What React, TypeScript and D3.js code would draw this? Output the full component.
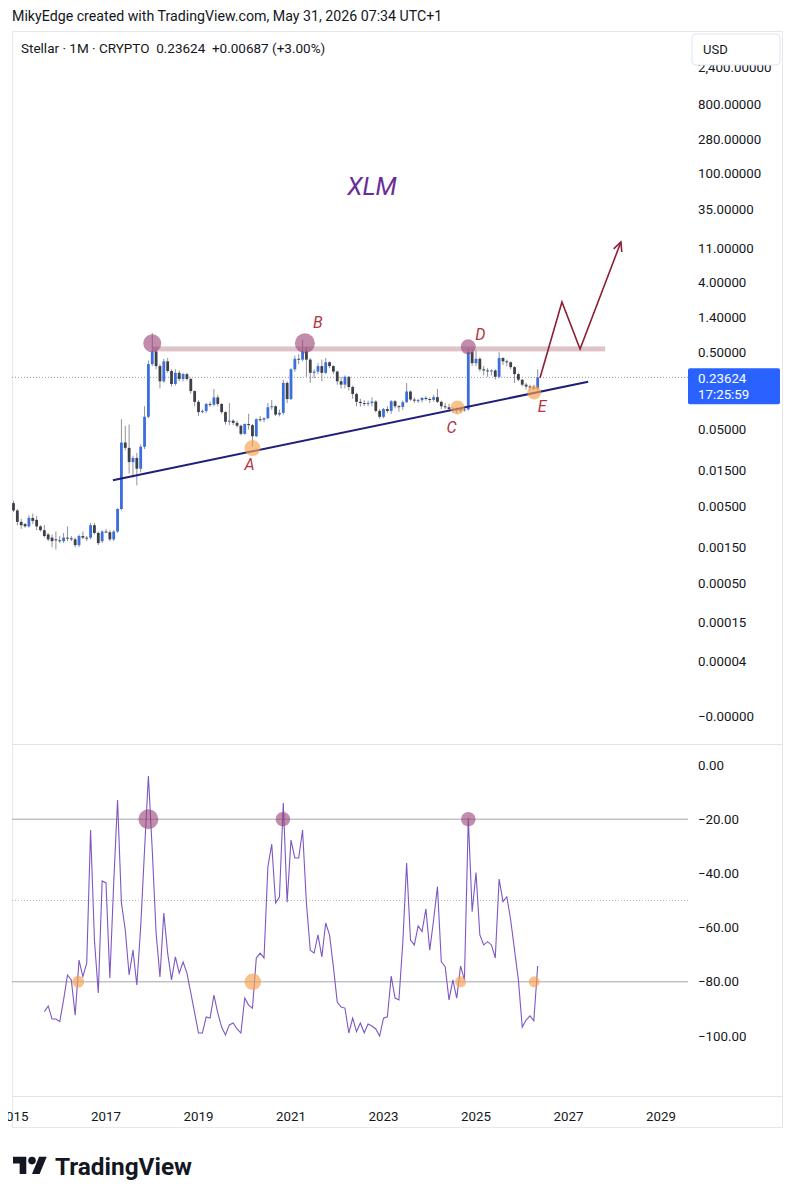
import React from "react";
import * as d3 from "d3";

// ---------- DATA ----------
// Monthly candles starting Jan 2015 (index 0), [open, high, low, close]
const firstYear = 2015;
const ohlc: [number, number, number, number][] = [
  [0.0056, 0.006, 0.0043, 0.0045], [0.0045, 0.0047, 0.0029, 0.0032], [0.0032, 0.0035, 0.0026, 0.0029], [0.003, 0.0031, 0.0027, 0.0028],
  [0.0028, 0.0039, 0.0027, 0.0036], [0.0036, 0.0041, 0.003, 0.0033], [0.0034, 0.0038, 0.0025, 0.0028], [0.0028, 0.0029, 0.0024, 0.0025],
  [0.0025, 0.0029, 0.002, 0.0021], [0.0022, 0.0023, 0.0018, 0.0019], [0.002, 0.0022, 0.0015, 0.0018], [0.0019, 0.0024, 0.0014, 0.00185],
  [0.00185, 0.0021, 0.0017, 0.0018], [0.0018, 0.0023, 0.0017, 0.002], [0.002, 0.0028, 0.0018, 0.00196], [0.00196, 0.0021, 0.0018, 0.0019],
  [0.0019, 0.002, 0.0015, 0.0016], [0.0016, 0.0022, 0.0015, 0.0021], [0.0021, 0.0024, 0.0019, 0.002], [0.002, 0.0021, 0.0018, 0.00198],
  [0.002, 0.0031, 0.0019, 0.0029], [0.0029, 0.0031, 0.0022, 0.0023], [0.0023, 0.0024, 0.0016, 0.0017], [0.0018, 0.0025, 0.0017, 0.0024],
  [0.0024, 0.0026, 0.0023, 0.00235], [0.00235, 0.0025, 0.0018, 0.0019], [0.0019, 0.0025, 0.0018, 0.0024], [0.0024, 0.0048, 0.0023, 0.0047],
  [0.0047, 0.068, 0.0045, 0.034], [0.034, 0.056, 0.027, 0.029], [0.029, 0.058, 0.0135, 0.019], [0.019, 0.023, 0.012, 0.0215],
  [0.0215, 0.025, 0.0095, 0.0156], [0.0156, 0.032, 0.014, 0.03], [0.03, 0.1, 0.028, 0.073], [0.073, 0.39, 0.07, 0.35],
  [0.35, 0.88, 0.33, 0.51], [0.51, 0.56, 0.3, 0.33], [0.33, 0.35, 0.17, 0.21], [0.21, 0.41, 0.2, 0.38],
  [0.38, 0.42, 0.27, 0.285], [0.285, 0.3, 0.18, 0.194], [0.194, 0.3, 0.185, 0.27], [0.27, 0.29, 0.21, 0.225],
  [0.225, 0.27, 0.21, 0.26], [0.26, 0.27, 0.215, 0.225], [0.225, 0.235, 0.145, 0.157], [0.157, 0.16, 0.1, 0.114],
  [0.114, 0.12, 0.075, 0.084], [0.084, 0.091, 0.081, 0.087], [0.087, 0.11, 0.082, 0.107], [0.107, 0.115, 0.098, 0.105],
  [0.105, 0.167, 0.1, 0.13], [0.13, 0.14, 0.1, 0.107], [0.107, 0.11, 0.08, 0.084], [0.084, 0.086, 0.058, 0.063],
  [0.063, 0.11, 0.057, 0.065], [0.065, 0.068, 0.057, 0.061], [0.061, 0.065, 0.053, 0.056], [0.056, 0.058, 0.042, 0.044],
  [0.044, 0.06, 0.043, 0.059], [0.059, 0.08, 0.05, 0.057], [0.057, 0.059, 0.03, 0.041], [0.041, 0.07, 0.04, 0.068],
  [0.068, 0.075, 0.063, 0.067], [0.067, 0.072, 0.062, 0.07], [0.07, 0.11, 0.068, 0.097], [0.097, 0.12, 0.09, 0.1],
  [0.1, 0.103, 0.075, 0.078], [0.078, 0.09, 0.074, 0.082], [0.082, 0.22, 0.078, 0.2], [0.2, 0.21, 0.11, 0.124],
  [0.124, 0.31, 0.12, 0.3], [0.3, 0.45, 0.28, 0.41], [0.41, 0.47, 0.35, 0.4], [0.4, 0.72, 0.38, 0.51],
  [0.51, 0.58, 0.24, 0.4], [0.4, 0.42, 0.2, 0.27], [0.27, 0.3, 0.23, 0.28], [0.28, 0.36, 0.26, 0.33],
  [0.33, 0.4, 0.21, 0.27], [0.27, 0.42, 0.26, 0.37], [0.37, 0.38, 0.31, 0.33], [0.33, 0.34, 0.26, 0.28],
  [0.28, 0.29, 0.19, 0.21], [0.21, 0.24, 0.17, 0.19], [0.19, 0.25, 0.17, 0.24], [0.24, 0.245, 0.16, 0.177],
  [0.177, 0.185, 0.125, 0.144], [0.144, 0.15, 0.1, 0.114], [0.114, 0.125, 0.099, 0.11], [0.11, 0.12, 0.1, 0.107],
  [0.107, 0.118, 0.1, 0.11], [0.11, 0.13, 0.1, 0.115], [0.115, 0.12, 0.083, 0.087], [0.087, 0.092, 0.069, 0.073],
  [0.073, 0.095, 0.07, 0.092], [0.092, 0.1, 0.082, 0.087], [0.087, 0.12, 0.08, 0.116], [0.116, 0.12, 0.094, 0.1],
  [0.1, 0.104, 0.085, 0.098], [0.098, 0.118, 0.09, 0.113], [0.113, 0.2, 0.11, 0.155], [0.155, 0.16, 0.118, 0.122],
  [0.122, 0.13, 0.11, 0.118], [0.118, 0.125, 0.11, 0.12], [0.12, 0.132, 0.112, 0.128], [0.128, 0.135, 0.118, 0.124],
  [0.124, 0.13, 0.11, 0.121], [0.121, 0.14, 0.115, 0.131], [0.131, 0.167, 0.11, 0.114], [0.114, 0.118, 0.092, 0.1],
  [0.1, 0.11, 0.092, 0.097], [0.097, 0.108, 0.085, 0.092], [0.092, 0.097, 0.083, 0.09], [0.09, 0.096, 0.081, 0.091],
  [0.091, 0.094, 0.084, 0.089], [0.089, 0.1, 0.085, 0.091], [0.091, 0.56, 0.088, 0.5], [0.5, 0.55, 0.33, 0.36],
  [0.36, 0.52, 0.33, 0.41], [0.41, 0.43, 0.28, 0.3], [0.3, 0.33, 0.25, 0.29], [0.29, 0.31, 0.24, 0.285],
  [0.285, 0.3, 0.25, 0.29], [0.29, 0.3, 0.22, 0.24], [0.24, 0.5, 0.23, 0.42], [0.42, 0.43, 0.34, 0.38],
  [0.38, 0.4, 0.33, 0.37], [0.37, 0.38, 0.3, 0.32], [0.32, 0.33, 0.2, 0.26], [0.26, 0.27, 0.21, 0.22],
  [0.22, 0.225, 0.18, 0.19], [0.19, 0.2, 0.165, 0.18], [0.18, 0.19, 0.16, 0.175], [0.175, 0.19, 0.16, 0.17],
  [0.17, 0.3, 0.16, 0.23624],
];

// Oscillator (Williams %R style), one value per month starting at month index 8
const oscStart = 8;
const oscValues: number[] = [
  -91.0, -88.9, -93.7, -93.7, -94.7, -86.7, -77.5, -79.3, -92.3, -72.0, -78.1, -73.1,
  -24.0, -64.6, -84.1, -42.8, -43.5, -78.6, -43.5, -12.9, -50.9, -60.9, -77.5, -68.3,
  -81.2, -59.8, -31.4, -4.1, -31.4, -62.0, -78.2, -54.6, -69.4, -79.3, -70.8, -76.8,
  -72.7, -76.8, -84.1, -91.5, -98.9, -98.9, -93.0, -93.4, -84.9, -91.5, -96.7, -99.6,
  -95.9, -95.2, -97.4, -98.9, -86.0, -88.6, -89.7, -71.2, -69.4, -71.2, -37.6, -29.2,
  -50.9, -48.7, -14.0, -50.6, -27.7, -34.3, -34.3, -24.0, -50.9, -68.3, -69.4, -62.7,
  -70.8, -58.3, -62.7, -74.5, -87.5, -89.3, -89.7, -98.9, -93.4, -98.4, -95.2, -98.8,
  -95.6, -96.3, -97.4, -100.0, -93.4, -92.9, -77.9, -86.0, -86.7, -65.7, -36.2, -64.6,
  -66.4, -59.4, -61.5, -53.1, -68.3, -57.2, -44.9, -72.6, -74.4, -86.7, -79.3, -86.0,
  -74.2, -79.3, -19.6, -54.1, -39.7, -62.7, -66.4, -65.2, -66.4, -71.2, -42.1, -50.4,
  -48.6, -57.2, -68.3, -79.3, -96.7, -94.1, -92.6, -94.4, -74.2,
];

const priceTicks = [2400, 800, 280, 100, 35, 11, 4, 1.4, 0.5, 0.05, 0.015, 0.005, 0.0015, 0.0005, 0.00015, 0.00004, 0];
const priceTickLabels = ["2,400.00000", "800.00000", "280.00000", "100.00000", "35.00000", "11.00000", "4.00000", "1.40000", "0.50000", "0.05000", "0.01500", "0.00500", "0.00150", "0.00050", "0.00015", "0.00004", "\u22120.00000"];
const oscTicks = [0, -20, -40, -60, -80, -100];
const oscTickLabels = ["0.00", "\u221220.00", "\u221240.00", "\u221260.00", "\u221280.00", "\u2212100.00"];
const yearTicks = [2015, 2017, 2019, 2021, 2023, 2025, 2027, 2029];
const lastPrice = 0.23624;

// Annotations (month index, price / value)
const topMarkers = [
  { i: 36, p: 0.65, r: 9 },
  { i: 75.6, p: 0.65, r: 10, label: "B", dx: 13, dy: -21 },
  { i: 118, p: 0.585, r: 7.5, label: "D", dx: 12, dy: -12 },
];
const bottomMarkers = [
  { i: 62, p: 0.0288, r: 8, label: "A", dx: -3, dy: 16 },
  { i: 115.2, p: 0.0966, r: 7, label: "C", dx: -6, dy: 20 },
  { i: 135.1, p: 0.15, r: 7, label: "E", dx: 8, dy: 14 },
];
const resistance = { i0: 36, i1: 153.5, p: 0.55 };
const trendLine = [{ i: 25.8, p: 0.0111 }, { i: 149.1, p: 0.207 }];
const projection = [
  { i: 136.6, p: 0.2316 }, { i: 142.3, p: 2.22 }, { i: 147.0, p: 0.548 }, { i: 157.6, p: 13.2 },
];
const oscHigh = [{ i: 35, r: 10 }, { i: 69.9, r: 7.3 }, { i: 118, r: 7.3 }];
const oscLow = [{ i: 16.8, r: 6 }, { i: 62.1, r: 8.3 }, { i: 116.0, r: 5.5 }, { i: 135.1, r: 5.5 }];

const FONT = "Roboto, 'Noto Sans', sans-serif";

export default function App() {
  const L = 12, R = 783, AX = 688;
  const mainTop = 31, mainBot = 744, oscTop = 745, oscBot = 1096, axBot = 1128;

  const x = d3.scaleLinear().domain([24, 168]).range([106, 661]);
  const y = d3.scaleSymlog().constant(1e-5).domain([0, 800]).range([716, 104]);
  const yo = d3.scaleLinear().domain([-100, 0]).range([1036, 765]);

  const up = "#3a6fdc";
  const down = "#3d4049";
  const wick = "#8f929b";
  const bw = 2.8;

  const oscLine = d3.line<number>().x((_, k) => x(oscStart + k)).y((d) => yo(d));
  const projLine = d3.line<{ i: number; p: number }>().x((d) => x(d.i)).y((d) => y(d.p));

  const tip = projection[projection.length - 1];
  const prev = projection[projection.length - 2];
  const tx = x(tip.i), ty = y(tip.p);
  const ang = Math.atan2(ty - y(prev.p), tx - x(prev.i));
  const ah = 10;
  const a1 = [tx - ah * Math.cos(ang - 0.45), ty - ah * Math.sin(ang - 0.45)];
  const a2 = [tx - ah * Math.cos(ang + 0.45), ty - ah * Math.sin(ang + 0.45)];

  const lastY = y(lastPrice);

  return (
    <div style={{ position: "absolute", left: 0, top: 0, width: 796, height: 1200, background: "#fff" }}>
      <svg width={796} height={1200} style={{ display: "block", fontFamily: FONT }}>
        <defs>
          <clipPath id="mainClip"><rect x={L} y={mainTop} width={AX - L} height={mainBot - mainTop} /></clipPath>
          <clipPath id="oscClip"><rect x={L} y={oscTop} width={AX - L} height={oscBot - oscTop} /></clipPath>
          <clipPath id="axClip"><rect x={L - 4} y={oscBot} width={AX - L + 4} height={axBot - oscBot} /></clipPath>
        </defs>
        <rect width={796} height={1200} fill="#fff" />

        {/* header */}
        <text x={12} y={21} fontSize={14.2} fill="#131722">MikyEdge created with TradingView.com, May 31, 2026 07:34 UTC+1</text>

        {/* frame */}
        <rect x={L + 0.5} y={mainTop + 0.5} width={R - L - 1} height={axBot - mainTop - 1} fill="none" stroke="#e6e8ee" />
        <line x1={L} x2={R} y1={mainBot + 0.5} y2={mainBot + 0.5} stroke="#e0e3eb" />
        <line x1={L} x2={R} y1={oscBot + 0.5} y2={oscBot + 0.5} stroke="#e0e3eb" />

        {/* legend */}
        <text x={21} y={53} fontSize={13.5} fill="#131722" style={{ whiteSpace: "pre" }}>
          {"Stellar \u00b7 1M \u00b7 CRYPTO  0.23624  +0.00687 (+3.00%)"}
        </text>

        {/* price pane */}
        <g clipPath="url(#mainClip)">
          <line x1={L} x2={AX} y1={lastY} y2={lastY} stroke="#9598a1" strokeDasharray="1 2" />
          <rect x={x(resistance.i0)} width={x(resistance.i1) - x(resistance.i0)} y={y(resistance.p) - 2.5} height={5} fill="#c4919a" opacity={0.55} />
          {ohlc.map((d, i) => {
            const [o, h, l, c] = d;
            const cx = x(i);
            const isUp = c >= o;
            const top = y(Math.max(o, c));
            const bot = y(Math.min(o, c));
            return (
              <g key={i}>
                <line x1={cx} x2={cx} y1={y(h)} y2={y(l)} stroke={wick} strokeWidth={1} />
                <rect x={cx - bw / 2} width={bw} y={top} height={Math.max(1, bot - top)} fill={isUp ? up : down} />
              </g>
            );
          })}
          <line x1={x(trendLine[0].i)} y1={y(trendLine[0].p)} x2={x(trendLine[1].i)} y2={y(trendLine[1].p)} stroke="#1f1f7a" strokeWidth={2} />
          {topMarkers.map((m, k) => (
            <circle key={"t" + k} cx={x(m.i)} cy={y(m.p)} r={m.r} fill="#9a3f77" opacity={0.6} />
          ))}
          {bottomMarkers.map((m, k) => (
            <circle key={"b" + k} cx={x(m.i)} cy={y(m.p)} r={m.r} fill="#f6a24e" opacity={0.65} />
          ))}
          {[...topMarkers, ...bottomMarkers].filter((m: any) => m.label).map((m: any, k) => (
            <text key={"l" + k} x={x(m.i) + m.dx} y={y(m.p) + m.dy} fontSize={16} fontStyle="italic" fill="#b5343f" textAnchor="middle" dominantBaseline="central">{m.label}</text>
          ))}
          <path d={projLine(projection) || ""} fill="none" stroke="#8c1f35" strokeWidth={1.6} />
          <path d={`M${a1[0]},${a1[1]}L${tx},${ty}L${a2[0]},${a2[1]}`} fill="none" stroke="#8c1f35" strokeWidth={1.6} />
          <text x={372} y={186} fontSize={25} fontStyle="italic" fill="#6a2d96" textAnchor="middle" dominantBaseline="central">XLM</text>
        </g>

        {/* price axis */}
        {priceTicks.map((t, k) => (
          <text key={k} x={698} y={y(t)} fontSize={13.3} fill="#131722" dominantBaseline="central">{priceTickLabels[k]}</text>
        ))}
        <rect x={692} y={34} width={88} height={31} rx={4} fill="#fff" stroke="#e0e3eb" />
        <text x={703} y={49} fontSize={13} fill="#131722" dominantBaseline="central">USD</text>
        <rect x={AX} y={lastY - 9} width={92} height={36} rx={2} fill="#2962ff" />
        <text x={698} y={lastY + 1} fontSize={13.3} fill="#fff" dominantBaseline="central">0.23624</text>
        <text x={698} y={lastY + 17} fontSize={13.3} fill="#fff" dominantBaseline="central">17:25:59</text>

        {/* oscillator pane */}
        <g clipPath="url(#oscClip)">
          <line x1={L} x2={AX} y1={yo(-20)} y2={yo(-20)} stroke="#a3a6af" strokeWidth={1} />
          <line x1={L} x2={AX} y1={yo(-80)} y2={yo(-80)} stroke="#a3a6af" strokeWidth={1} />
          <line x1={L} x2={AX} y1={yo(-50)} y2={yo(-50)} stroke="#b7bac2" strokeDasharray="1 2" />
          <path d={oscLine(oscValues) || ""} fill="none" stroke="#7e57c2" strokeWidth={1.1} />
          {oscHigh.map((m, k) => (
            <circle key={"oh" + k} cx={x(m.i)} cy={yo(-20)} r={m.r} fill="#9a3f77" opacity={0.6} />
          ))}
          {oscLow.map((m, k) => (
            <circle key={"ol" + k} cx={x(m.i)} cy={yo(-80)} r={m.r} fill="#f6a24e" opacity={0.65} />
          ))}
        </g>
        {oscTicks.map((t, k) => (
          <text key={k} x={698} y={yo(t)} fontSize={13.3} fill="#131722" dominantBaseline="central">{oscTickLabels[k]}</text>
        ))}

        {/* time axis */}
        <g clipPath="url(#axClip)">
          {yearTicks.map((yr) => (
            <text key={yr} x={x((yr - firstYear) * 12)} y={1116} fontSize={13.3} fill="#131722" textAnchor="middle" dominantBaseline="central">{yr}</text>
          ))}
        </g>

        {/* logo */}
        <g transform="translate(13,1153) scale(0.95)" fill="#131722">
          <path d="M14 22H7V11H0V4h14v18zM28 22h-8l7.5-18h8L28 22z" />
          <circle cx={20} cy={8} r={4} />
        </g>
        <text x={55} y={1175} fontSize={23} fontWeight={700} fill="#131722" textLength={137} lengthAdjust="spacingAndGlyphs">TradingView</text>
      </svg>
    </div>
  );
}
